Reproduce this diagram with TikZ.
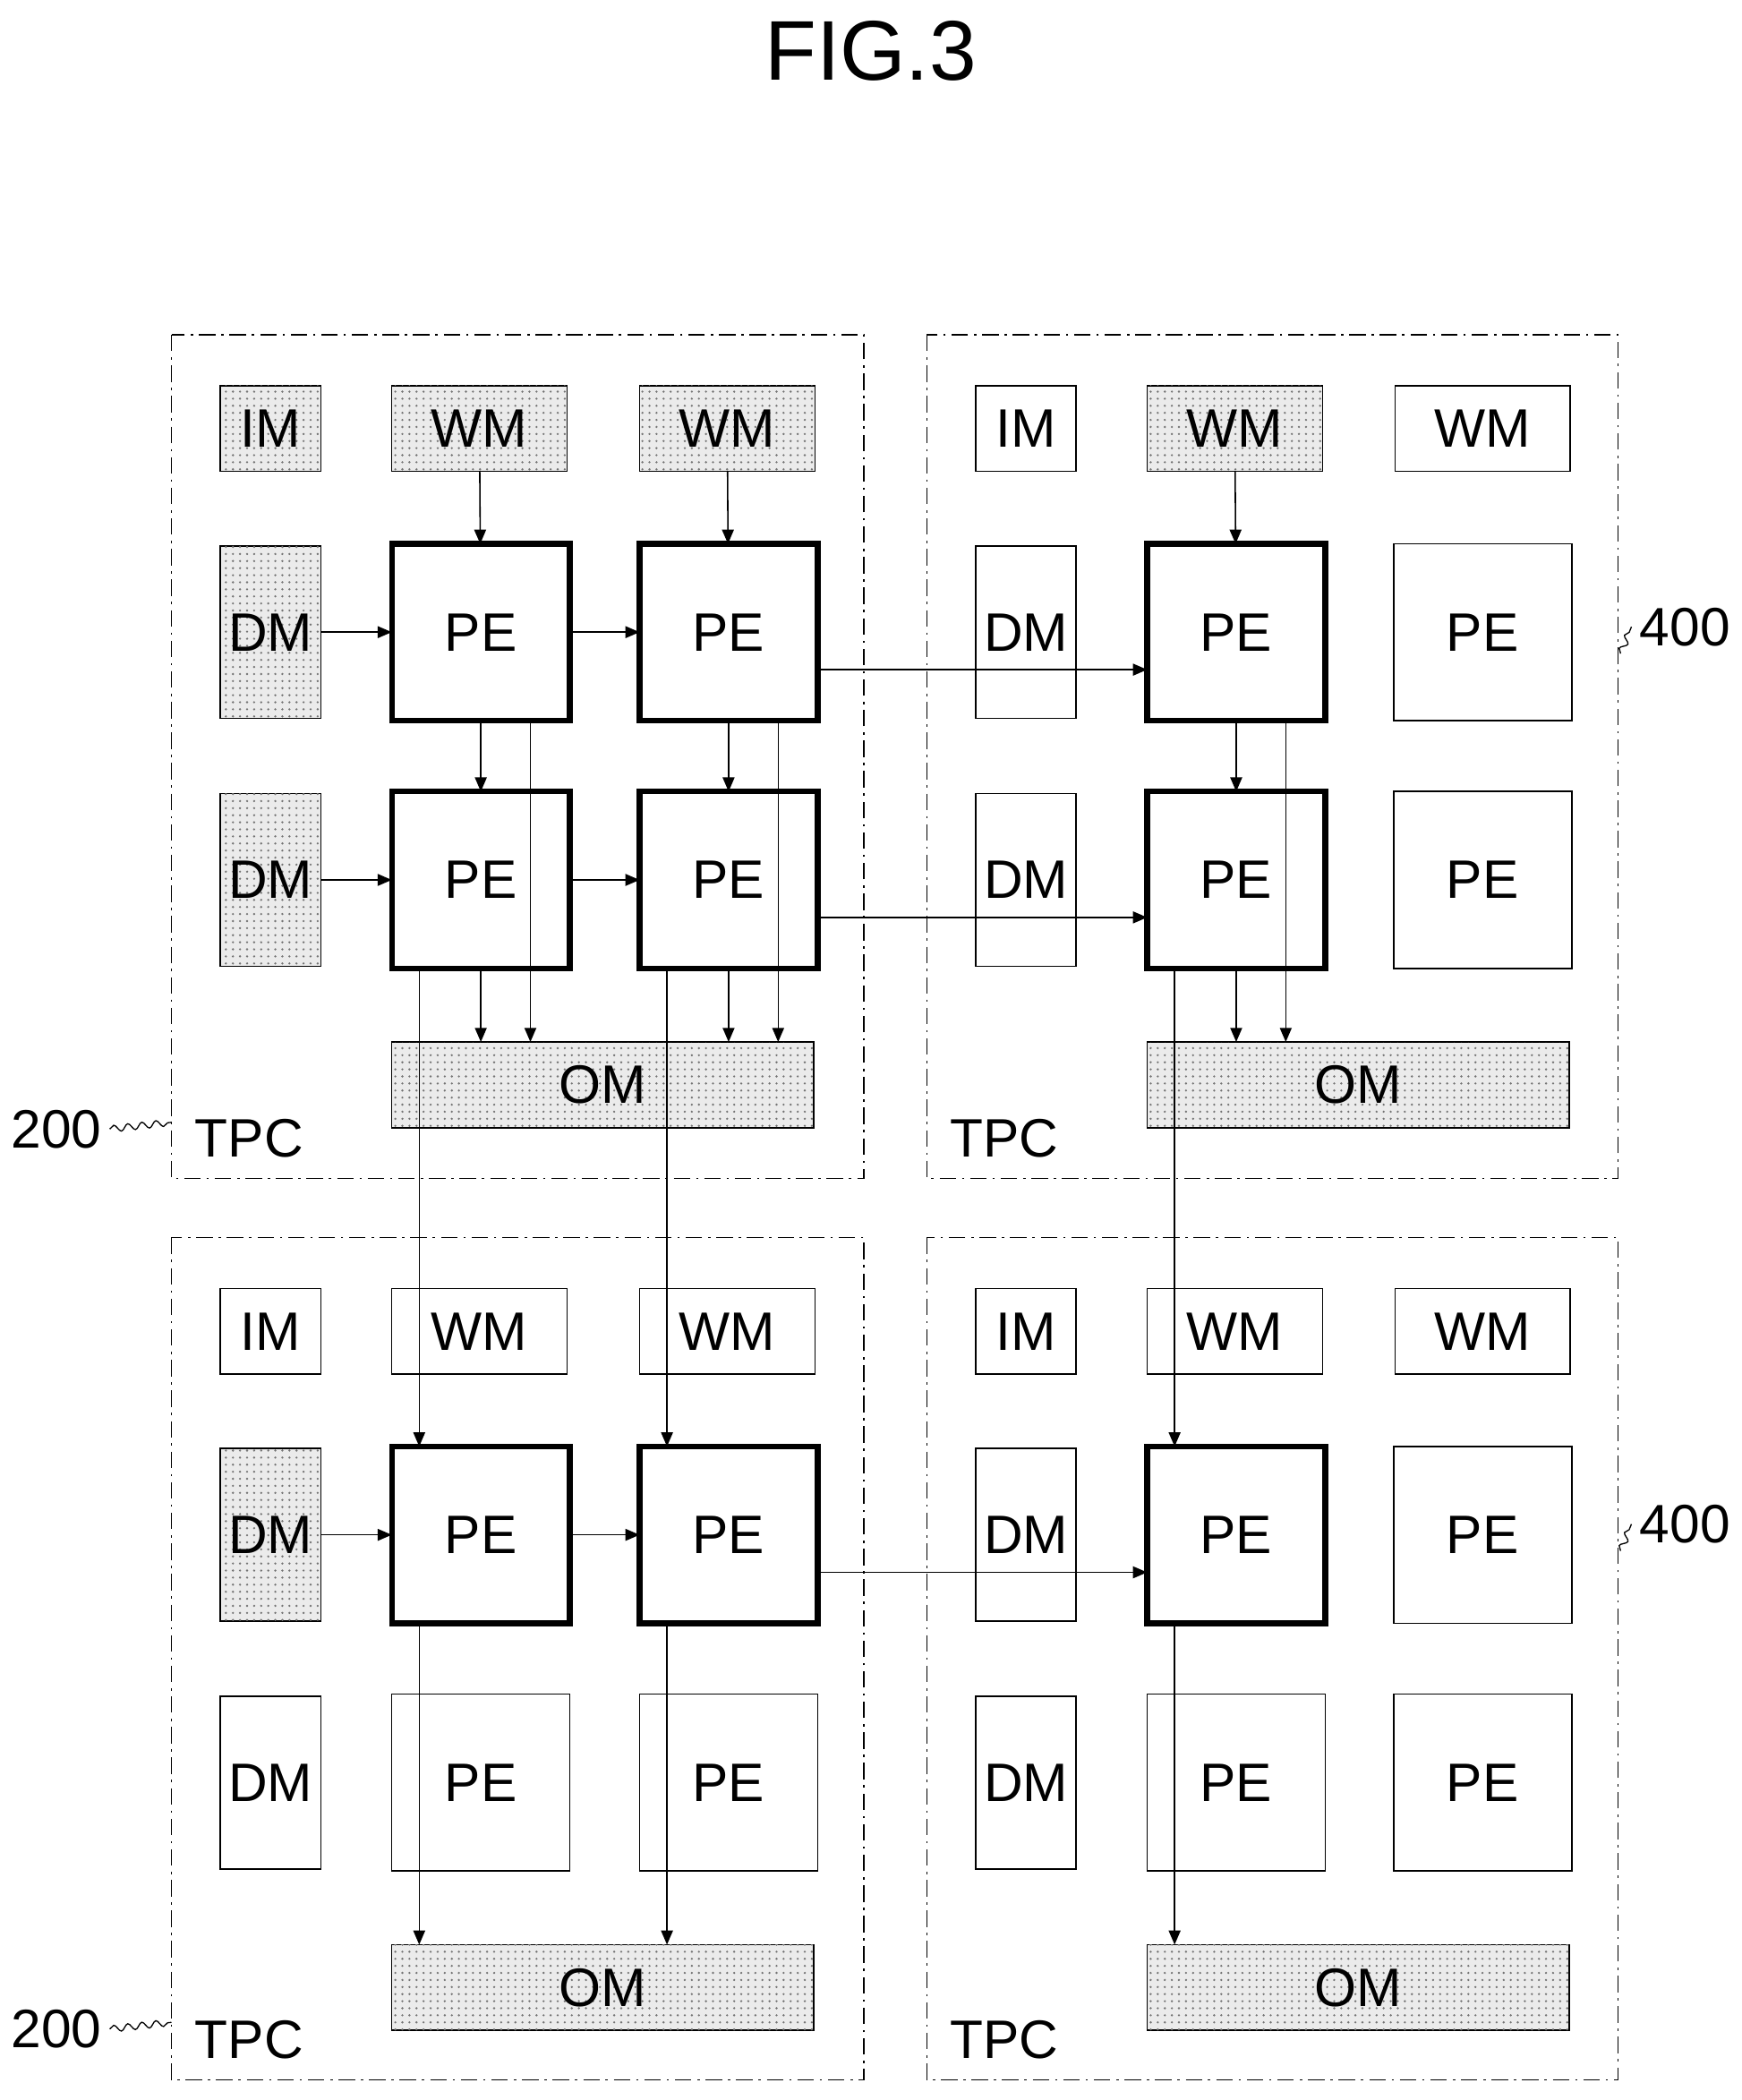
\documentclass[tikz,border=0pt]{standalone}
\usepackage{fontspec}
\setmainfont{Liberation Sans}
\usetikzlibrary{arrows.meta,patterns,calc,decorations.pathmorphing}
\tikzset{
  box/.style={draw=black, line width=0.6pt, inner sep=0pt, outer sep=0pt, font=\fontsize{23}{26}\selectfont},
  dotted box/.style={box, fill=black!8, postaction={pattern=dots, pattern color=black!55}},
  im/.style={minimum width=1.5cm, minimum height=1.28cm},
  wm/.style={minimum width=2.62cm, minimum height=1.28cm},
  dm/.style={minimum width=1.5cm, minimum height=2.58cm},
  pe/.style={box, minimum width=2.66cm, minimum height=2.64cm},
  active pe/.style={pe, line width=2.4pt},
  om/.style={minimum width=6.3cm, minimum height=1.28cm},
  tpc/.style={draw=black, line width=0.6pt, dash pattern=on 7pt off 2.5pt on 1pt off 2.5pt},
  flow/.style={-{Triangle[length=6pt,width=5pt]}, line width=0.6pt},
  leader/.style={decorate, decoration={snake, amplitude=1.4pt, segment length=6pt}, line width=0.5pt},
  lbl/.style={font=\fontsize{23}{26}\selectfont}
}
\begin{document}
\begin{tikzpicture}[x=0.02cm, y=-0.02cm]
    \useasboundingbox (0,0) rectangle (1300,1568);
    \node [font=\fontsize{36}{40}\selectfont] (title) at (650,38) {FIG.3};
    % cluster frames
    \draw [tpc] (128,250) rectangle (645,880);
    \draw [tpc] (692,250) rectangle (1208,880);
    \draw [tpc] (128,924) rectangle (645,1553);
    \draw [tpc] (692,924) rectangle (1208,1553);
    \node [lbl] (tpcA) at (186,850) {TPC};
    \node [lbl] (tpcB) at (750,850) {TPC};
    \node [lbl] (tpcC) at (186,1523) {TPC};
    \node [lbl] (tpcD) at (750,1523) {TPC};
    % upper left
    \node [dotted box, im] (imA) at (202,320) {IM};
    \node [dotted box, wm] (wmA1) at (358,320) {WM};
    \node [dotted box, wm] (wmA2) at (543,320) {WM};
    \node [dotted box, dm] (dmA1) at (202,472) {DM};
    \node [dotted box, dm] (dmA2) at (202,657) {DM};
    \node [active pe] (peA11) at (359,472) {PE};
    \node [active pe] (peA12) at (544,472) {PE};
    \node [active pe] (peA21) at (359,657) {PE};
    \node [active pe] (peA22) at (544,657) {PE};
    \node [dotted box, om] (omA) at (450,810) {OM};
    % upper right
    \node [box, im] (imB) at (766,320) {IM};
    \node [dotted box, wm] (wmB1) at (922,320) {WM};
    \node [box, wm] (wmB2) at (1107,320) {WM};
    \node [box, dm] (dmB1) at (766,472) {DM};
    \node [box, dm] (dmB2) at (766,657) {DM};
    \node [active pe] (peB11) at (923,472) {PE};
    \node [pe] (peB12) at (1107,472) {PE};
    \node [active pe] (peB21) at (923,657) {PE};
    \node [pe] (peB22) at (1107,657) {PE};
    \node [dotted box, om] (omB) at (1014,810) {OM};
    % lower left
    \node [box, im] (imC) at (202,994) {IM};
    \node [box, wm] (wmC1) at (358,994) {WM};
    \node [box, wm] (wmC2) at (543,994) {WM};
    \node [dotted box, dm] (dmC1) at (202,1146) {DM};
    \node [box, dm] (dmC2) at (202,1331) {DM};
    \node [active pe] (peC11) at (359,1146) {PE};
    \node [active pe] (peC12) at (544,1146) {PE};
    \node [pe] (peC21) at (359,1331) {PE};
    \node [pe] (peC22) at (544,1331) {PE};
    \node [dotted box, om] (omC) at (450,1484) {OM};
    % lower right
    \node [box, im] (imD) at (766,994) {IM};
    \node [box, wm] (wmD1) at (922,994) {WM};
    \node [box, wm] (wmD2) at (1107,994) {WM};
    \node [box, dm] (dmD1) at (766,1146) {DM};
    \node [box, dm] (dmD2) at (766,1331) {DM};
    \node [active pe] (peD11) at (923,1146) {PE};
    \node [pe] (peD12) at (1107,1146) {PE};
    \node [pe] (peD21) at (923,1331) {PE};
    \node [pe] (peD22) at (1107,1331) {PE};
    \node [dotted box, om] (omD) at (1014,1484) {OM};
    % reference labels
    \node [lbl] (refA) at (42,843) {200};
    \node [lbl] (refC) at (42,1515) {200};
    \node [lbl] (refB) at (1258,468) {400};
    \node [lbl] (refD) at (1258,1138) {400};
    \draw [leader] (refA.east) -- (128,838);
    \draw [leader] (refC.east) -- (128,1510);
    \draw [leader] (1210,488) -- (refB.west);
    \draw [leader] (1210,1158) -- (refD.west);
    % weights down
    \draw [flow] (wmA1) -- (peA11);
    \draw [flow] (wmA2) -- (peA12);
    \draw [flow] (wmB1) -- (peB11);
    % data across
    \draw [flow] (dmA1) -- (peA11);
    \draw [flow] (peA11) -- (peA12);
    \draw [flow] (dmA2) -- (peA21);
    \draw [flow] (peA21) -- (peA22);
    \draw [flow] (dmC1) -- (peC11);
    \draw [flow] (peC11) -- (peC12);
    \draw [flow] ($(peA12.east)+(0,28)$) -- ($(peB11.west)+(0,28)$);
    \draw [flow] ($(peA22.east)+(0,28)$) -- ($(peB21.west)+(0,28)$);
    \draw [flow] ($(peC12.east)+(0,28)$) -- ($(peD11.west)+(0,28)$);
    % partial sums down
    \foreach \a/\b/\o in {A11/A21/A, A12/A22/A, B11/B21/B} {
      \draw [flow] (pe\a) -- (pe\b);
      \coordinate (by\a) at ($(pe\a.south)+(37,0)$);
      \draw [flow] (by\a) -- (by\a |- om\o.north);
      \draw [flow] (pe\b.south) -- (pe\b.south |- om\o.north);
    }
    % outputs to next cluster
    \foreach \a/\b/\o in {A21/C11/C, A22/C12/C, B21/D11/D} {
      \coordinate (out\a) at ($(pe\a.south)+(-46,0)$);
      \coordinate (out\b) at ($(pe\b.south)+(-46,0)$);
      \draw [flow] (out\a) -- (out\a |- pe\b.north);
      \draw [flow] (out\b) -- (out\b |- om\o.north);
    }
\end{tikzpicture}
\end{document}
